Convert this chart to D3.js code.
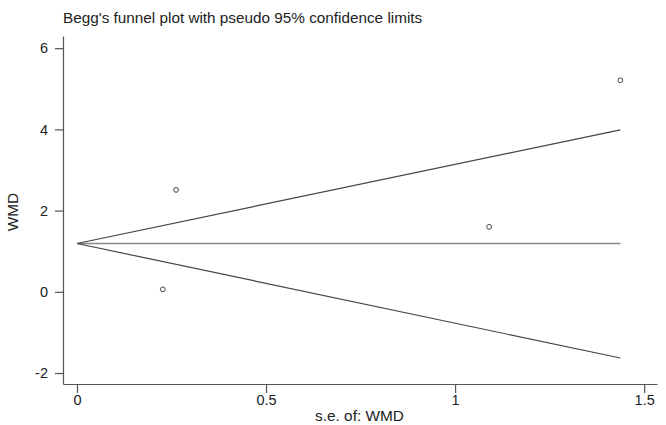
<!DOCTYPE html>
<html>
<head>
<meta charset="utf-8">
<script src="https://cdn.jsdelivr.net/npm/d3@7"></script>
<style>
  body { margin: 0; background: #fff; }
  .canvas { width: 666px; height: 425px; }
  text { font-family: "Liberation Sans", Arial, sans-serif; fill: #222; }
</style>
</head>
<body>
<div class="canvas"></div>
<script>
// study points (standard error, weighted mean difference)
const studySe = [0.227, 0.262, 1.09, 1.437];
const studyWmd = [0.06, 2.51, 1.6, 5.21];

// pseudo 95% confidence limits
const funnelSe = [0, 1.437];
const upperLimit = [1.19, 3.99];
const lowerLimit = [1.19, -1.63];
const pooled = [1.19, 1.19];

const xTicks = [0, 0.5, 1, 1.5];
const yTicks = [-2, 0, 2, 4, 6];

const title = "Begg's funnel plot with pseudo 95% confidence limits";
const xTitle = "s.e. of: WMD";
const yTitle = "WMD";

function setup() {
  const W = 666, H = 425;

  const x = d3.scaleLinear().domain([-0.037, 1.534]).range([63, 657]);
  const y = d3.scaleLinear().domain([-2.27, 6.3]).range([384, 36]);

  const svg = d3.select(".canvas").append("svg")
    .attr("width", W).attr("height", H);

  svg.append("text")
    .attr("x", 63).attr("y", 22.5)
    .attr("font-size", 15.3)
    .text(title);

  const xAxis = d3.axisBottom(x).tickValues(xTicks).tickSize(9).tickSizeOuter(0)
    .tickFormat(d3.format("~g"));
  const yAxis = d3.axisLeft(y).tickValues(yTicks).tickSize(8).tickSizeOuter(0)
    .tickFormat(d => d < 0 ? "-" + Math.abs(d) : d);

  const gx = svg.append("g").attr("transform", "translate(0,384)").call(xAxis);
  const gy = svg.append("g").attr("transform", "translate(63,0)").call(yAxis);

  [gx, gy].forEach(g => {
    g.selectAll("path, line").attr("stroke", "#555").attr("stroke-width", 1.2);
    g.selectAll("text").attr("font-size", 14.5)
      .attr("font-family", "Liberation Sans, Arial, sans-serif").attr("fill", "#222");
  });
  gx.selectAll("text").attr("y", 21).attr("dy", 0);
  gy.selectAll("text").attr("x", -15);

  svg.append("text")
    .attr("x", 359.5).attr("y", 421)
    .attr("text-anchor", "middle").attr("font-size", 15.4)
    .text(xTitle);

  svg.append("text")
    .attr("transform", "translate(17.5,212) rotate(-90)")
    .attr("text-anchor", "middle").attr("font-size", 15.4)
    .text(yTitle);

  const line = d3.line().x(d => x(d[0])).y(d => y(d[1]));

  svg.append("path")
    .datum(funnelSe.map((s, i) => [s, pooled[i]]))
    .attr("d", line).attr("fill", "none")
    .attr("stroke", "#888").attr("stroke-width", 1.6);

  [upperLimit, lowerLimit].forEach(lim => {
    svg.append("path")
      .datum(funnelSe.map((s, i) => [s, lim[i]]))
      .attr("d", line).attr("fill", "none")
      .attr("stroke", "#444").attr("stroke-width", 1.2);
  });

  svg.selectAll("circle.pt")
    .data(studySe.map((s, i) => [s, studyWmd[i]]))
    .enter().append("circle")
    .attr("class", "pt")
    .attr("cx", d => x(d[0])).attr("cy", d => y(d[1]))
    .attr("r", 2.4)
    .attr("fill", "none").attr("stroke", "#444").attr("stroke-width", 1);
}

setup();
</script>
</body>
</html>
